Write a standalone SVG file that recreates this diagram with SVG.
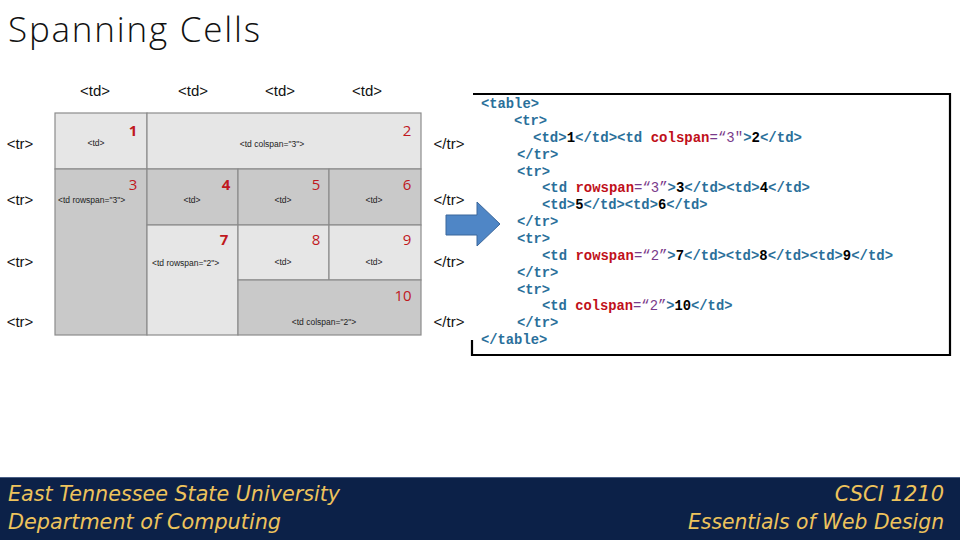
<svg xmlns="http://www.w3.org/2000/svg" width="960" height="540" viewBox="0 0 960 540">
<style>
.lab{font-family:"Liberation Sans",Arial,sans-serif;font-size:15px;fill:#111}
.small{font-family:"Liberation Sans",Arial,sans-serif;font-size:8.5px;fill:#222}
.num{font-family:"Open Sans","Liberation Sans",sans-serif;font-size:15px;fill:#c0181e}
.lt{fill:#e6e6e6;stroke:#8c8c8c;stroke-width:1.2}
.dk{fill:#c9c9c9;stroke:#8c8c8c;stroke-width:1.2}
.code{font-family:"Liberation Mono","Courier New",monospace;font-size:13.8px;font-weight:bold;fill:#2a6f9a}
.a{fill:#c0101a}.v{fill:#7a3a8a;font-weight:normal}.c{fill:#000}
.foot{font-family:"DejaVu Sans","Liberation Sans",sans-serif;font-style:italic;font-size:21px;fill:#eec35c}
</style>
<rect width="960" height="540" fill="#fff"/>
<text x="8" y="42" font-family="Open Sans,Liberation Sans,sans-serif" font-weight="300" font-size="35" fill="#111" textLength="252">Spanning Cells</text>

<g id="headers">
<text class="lab" x="95" y="96" text-anchor="middle">&lt;td&gt;</text>
<text class="lab" x="193" y="96" text-anchor="middle">&lt;td&gt;</text>
<text class="lab" x="280" y="96" text-anchor="middle">&lt;td&gt;</text>
<text class="lab" x="367" y="96" text-anchor="middle">&lt;td&gt;</text>
<text class="lab" x="20" y="149" text-anchor="middle">&lt;tr&gt;</text>
<text class="lab" x="20" y="205" text-anchor="middle">&lt;tr&gt;</text>
<text class="lab" x="20" y="267" text-anchor="middle">&lt;tr&gt;</text>
<text class="lab" x="20" y="327" text-anchor="middle">&lt;tr&gt;</text>
<text class="lab" x="449" y="149" text-anchor="middle">&lt;/tr&gt;</text>
<text class="lab" x="449" y="205" text-anchor="middle">&lt;/tr&gt;</text>
<text class="lab" x="449" y="267" text-anchor="middle">&lt;/tr&gt;</text>
<text class="lab" x="449" y="327" text-anchor="middle">&lt;/tr&gt;</text>
</g>

<g id="cell1"><rect class="lt" x="55" y="113" width="92" height="56"/><text class="small" x="96" y="146" text-anchor="middle">&lt;td&gt;</text><text class="num" x="133" y="136" text-anchor="middle" font-weight="bold">1</text></g>
<g id="cell2"><rect class="lt" x="147" y="113" width="274" height="56"/><text class="small" x="272" y="147" text-anchor="middle">&lt;td colspan="3"&gt;</text><text class="num" x="407" y="136" text-anchor="middle">2</text></g>
<g id="cell3"><rect class="dk" x="55" y="169" width="92" height="166"/><text class="small" x="58" y="203">&lt;td rowspan="3"&gt;</text><text class="num" x="133" y="190" text-anchor="middle">3</text></g>
<g id="cell4"><rect class="dk" x="147" y="169" width="91" height="56"/><text class="small" x="192" y="203" text-anchor="middle">&lt;td&gt;</text><text class="num" x="226" y="190" text-anchor="middle" font-weight="bold">4</text></g>
<g id="cell5"><rect class="dk" x="238" y="169" width="91" height="56"/><text class="small" x="283" y="203" text-anchor="middle">&lt;td&gt;</text><text class="num" x="316" y="190" text-anchor="middle">5</text></g>
<g id="cell6"><rect class="dk" x="329" y="169" width="92" height="56"/><text class="small" x="374" y="203" text-anchor="middle">&lt;td&gt;</text><text class="num" x="407" y="190" text-anchor="middle">6</text></g>
<g id="cell7"><rect class="lt" x="147" y="225" width="91" height="110"/><text class="small" x="152" y="266">&lt;td rowspan="2"&gt;</text><text class="num" x="224" y="245" text-anchor="middle" font-weight="bold">7</text></g>
<g id="cell8"><rect class="lt" x="238" y="225" width="91" height="55"/><text class="small" x="283" y="265" text-anchor="middle">&lt;td&gt;</text><text class="num" x="316" y="245" text-anchor="middle">8</text></g>
<g id="cell9"><rect class="lt" x="329" y="225" width="92" height="55"/><text class="small" x="374" y="265" text-anchor="middle">&lt;td&gt;</text><text class="num" x="407" y="245" text-anchor="middle">9</text></g>
<g id="cell10"><rect class="dk" x="238" y="280" width="183" height="55"/><text class="small" x="324" y="325" text-anchor="middle">&lt;td colspan="2"&gt;</text><text class="num" x="403" y="301" text-anchor="middle">10</text></g>

<g id="connectors">
<path d="M446,215 H477 V202 L500,224 L477,246 V235 H446 Z" fill="#4f86c6" stroke="#3b679b" stroke-width="1"/>
</g>

<g id="code">
<path d="M473,94 H950 V355 H472 V340" fill="none" stroke="#000" stroke-width="2.2"/>
<text class="code" x="481" y="108">&lt;table&gt;</text>
<text class="code" x="514" y="125">&lt;tr&gt;</text>
<text class="code" x="533" y="142" textLength="269" lengthAdjust="spacingAndGlyphs">&lt;td&gt;<tspan class="c">1</tspan>&lt;/td&gt;&lt;td <tspan class="a">colspan</tspan><tspan class="v">=“3"</tspan>&gt;<tspan class="c">2</tspan>&lt;/td&gt;</text>
<text class="code" x="517" y="159">&lt;/tr&gt;</text>
<text class="code" x="517" y="176">&lt;tr&gt;</text>
<text class="code" x="542" y="192" textLength="268" lengthAdjust="spacingAndGlyphs">&lt;td <tspan class="a">rowspan</tspan><tspan class="v">=“3”</tspan>&gt;<tspan class="c">3</tspan>&lt;/td&gt;&lt;td&gt;<tspan class="c">4</tspan>&lt;/td&gt;</text>
<text class="code" x="542" y="209">&lt;td&gt;<tspan class="c">5</tspan>&lt;/td&gt;&lt;td&gt;<tspan class="c">6</tspan>&lt;/td&gt;</text>
<text class="code" x="517" y="226">&lt;/tr&gt;</text>
<text class="code" x="517" y="243">&lt;tr&gt;</text>
<text class="code" x="542" y="260" textLength="351" lengthAdjust="spacingAndGlyphs">&lt;td <tspan class="a">rowspan</tspan><tspan class="v">=“2”</tspan>&gt;<tspan class="c">7</tspan>&lt;/td&gt;&lt;td&gt;<tspan class="c">8</tspan>&lt;/td&gt;&lt;td&gt;<tspan class="c">9</tspan>&lt;/td&gt;</text>
<text class="code" x="517" y="277">&lt;/tr&gt;</text>
<text class="code" x="517" y="294">&lt;tr&gt;</text>
<text class="code" x="542" y="310">&lt;td <tspan class="a">colspan</tspan><tspan class="v">=“2”</tspan>&gt;<tspan class="c">10</tspan>&lt;/td&gt;</text>
<text class="code" x="517" y="327">&lt;/tr&gt;</text>
<text class="code" x="481" y="344">&lt;/table&gt;</text>
</g>

<g id="footer">
<rect x="0" y="477" width="960" height="63" fill="#0c2148"/>
<line x1="0" y1="477.5" x2="960" y2="477.5" stroke="#4a5f86" stroke-width="1"/>
<text class="foot" x="8" y="501" textLength="332" lengthAdjust="spacingAndGlyphs">East Tennessee State University</text>
<text class="foot" x="8" y="529" textLength="273" lengthAdjust="spacingAndGlyphs">Department of Computing</text>
<text class="foot" x="944" y="501" text-anchor="end">CSCI 1210</text>
<text class="foot" x="944" y="529" text-anchor="end" textLength="256" lengthAdjust="spacingAndGlyphs">Essentials of Web Design</text>
</g>
</svg>
